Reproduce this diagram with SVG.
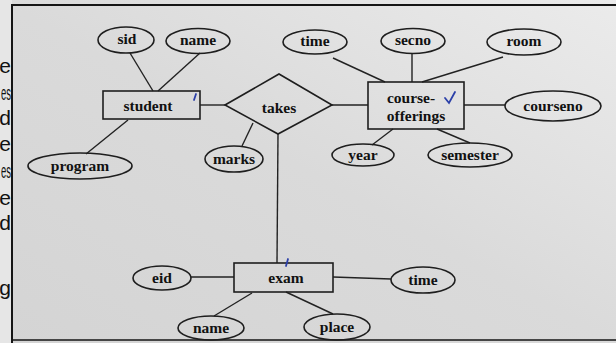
<svg xmlns="http://www.w3.org/2000/svg" width="616" height="343" viewBox="0 0 616 343">
<defs>
<linearGradient id="bg" x1="0" y1="1" x2="1" y2="0">
<stop offset="0" stop-color="#d4d4d4"/>
<stop offset="0.5" stop-color="#dadada"/>
<stop offset="1" stop-color="#ebebeb"/>
</linearGradient>
<style>
.sh{fill:none;stroke:#1e1e1e;stroke-width:1.6}
.ln{stroke:#222;stroke-width:1.4;fill:none}
.t{font-family:"Liberation Serif",serif;font-weight:bold;font-size:15.5px;fill:#111;text-anchor:middle}
.m{font-family:"Liberation Sans",sans-serif;font-size:21px;fill:#111;text-anchor:end}
.blue{stroke:#2b3fa8;stroke-width:1.8;fill:none;stroke-linecap:round}
</style>
</defs>
<rect x="0" y="0" width="616" height="343" fill="url(#bg)"/>
<rect x="0" y="0" width="12" height="343" fill="#e6e6e6"/>
<g id="margin-text">
<text class="m" x="11" y="73">e</text>
<text class="m" x="11" y="100" textLength="10" lengthAdjust="spacingAndGlyphs">es</text>
<text class="m" x="11" y="125">d</text>
<text class="m" x="11" y="151">e</text>
<text class="m" x="11" y="178" textLength="10" lengthAdjust="spacingAndGlyphs">es</text>
<text class="m" x="11" y="205">e</text>
<text class="m" x="11" y="230">d</text>
<text class="m" x="11" y="295">g</text>
</g>
<g id="frame" stroke="#151515" stroke-width="2" fill="none">
<path d="M12,343 V5 H616"/>
<path d="M12,340 H616" stroke-width="1.5"/>
</g>
<g id="connectors" class="ln">
<line x1="130" y1="53" x2="153" y2="91"/>
<line x1="200" y1="53" x2="158" y2="91"/>
<line x1="128" y1="120" x2="86" y2="154"/>
<line x1="200" y1="105" x2="225" y2="105"/>
<line x1="253" y1="123" x2="242" y2="146"/>
<line x1="332" y1="105" x2="368" y2="105"/>
<line x1="278" y1="134" x2="277" y2="263"/>
<line x1="333" y1="58" x2="385" y2="82"/>
<line x1="412" y1="53" x2="412" y2="82"/>
<line x1="503" y1="57" x2="422" y2="82"/>
<line x1="464" y1="105" x2="505" y2="105"/>
<line x1="393" y1="129" x2="372" y2="145"/>
<line x1="437" y1="129" x2="470" y2="143"/>
<line x1="191" y1="277" x2="234" y2="277"/>
<line x1="333" y1="277" x2="391" y2="279"/>
<line x1="252" y1="293" x2="214" y2="316"/>
<line x1="286" y1="292" x2="333" y2="314"/>
</g>
<g id="student">
<rect class="sh" x="103" y="91" width="97" height="28"/>
<text class="t" x="148" y="111">student</text>
<path class="blue" d="M196,94 L194,100"/>
</g>
<g id="sid"><ellipse class="sh" cx="126" cy="40" rx="28" ry="13"/><text class="t" x="127" y="44">sid</text></g>
<g id="name"><ellipse class="sh" cx="198" cy="41" rx="32" ry="12.5"/><text class="t" x="198" y="45">name</text></g>
<g id="program"><ellipse class="sh" cx="80" cy="166" rx="52" ry="13"/><text class="t" x="80" y="171">program</text></g>
<g id="takes">
<polygon class="sh" points="225,105 279,74 332,105 278,134"/>
<text class="t" x="279" y="113">takes</text>
</g>
<g id="marks"><ellipse class="sh" cx="234" cy="159" rx="29" ry="13"/><text class="t" x="234" y="164">marks</text></g>
<g id="course-offerings">
<rect class="sh" x="368" y="82" width="96" height="47"/>
<text class="t" x="411" y="103">course-</text>
<text class="t" x="416" y="121">offerings</text>
<path class="blue" d="M445,98 L449,103 L455,92"/>
</g>
<g id="time1"><ellipse class="sh" cx="315" cy="42" rx="32" ry="12"/><text class="t" x="315" y="46">time</text></g>
<g id="secno"><ellipse class="sh" cx="413" cy="41" rx="32" ry="12.5"/><text class="t" x="413" y="45">secno</text></g>
<g id="room"><ellipse class="sh" cx="524" cy="42" rx="37" ry="13"/><text class="t" x="524" y="46">room</text></g>
<g id="courseno"><ellipse class="sh" cx="553" cy="106" rx="48" ry="15"/><text class="t" x="553" y="111">courseno</text></g>
<g id="year"><ellipse class="sh" cx="363" cy="155" rx="31" ry="11"/><text class="t" x="363" y="160">year</text></g>
<g id="semester"><ellipse class="sh" cx="470" cy="155" rx="42" ry="12"/><text class="t" x="470" y="160">semester</text></g>
<g id="exam">
<rect class="sh" x="234" y="263" width="99" height="29"/>
<text class="t" x="286" y="283">exam</text>
<path class="blue" d="M288,259 L286,266"/>
</g>
<g id="eid"><ellipse class="sh" cx="162" cy="278" rx="29" ry="12"/><text class="t" x="162" y="283">eid</text></g>
<g id="time2"><ellipse class="sh" cx="423" cy="280" rx="32" ry="13"/><text class="t" x="423" y="285">time</text></g>
<g id="name2"><ellipse class="sh" cx="211" cy="328" rx="33" ry="12"/><text class="t" x="211" y="333">name</text></g>
<g id="place"><ellipse class="sh" cx="337" cy="327" rx="33" ry="13"/><text class="t" x="337" y="332">place</text></g>
</svg>
